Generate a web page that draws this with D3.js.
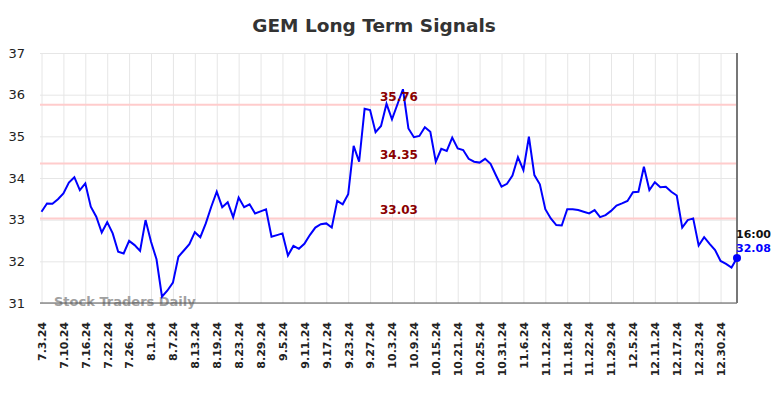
<!DOCTYPE html>
<html>
<head>
<meta charset="utf-8">
<script src="https://cdn.jsdelivr.net/npm/d3@7"></script>
<style>
  body { margin: 0; background: #fff; }
  svg { display: block; font-family: "DejaVu Sans", sans-serif; }
</style>
</head>
<body>
<div id="chart"></div>
<script>
// closing prices, one per trading day from 7.3.24
const prices = [
  33.19, 33.39, 33.38, 33.49, 33.63, 33.89, 34.02, 33.71, 33.87, 33.31,
  33.07, 32.69, 32.94, 32.67, 32.23, 32.19, 32.49, 32.39, 32.25, 32.99,
  32.47, 32.05, 31.15, 31.30, 31.49, 32.11, 32.26, 32.41, 32.70, 32.58,
  32.91, 33.31, 33.67, 33.30, 33.42, 33.06, 33.53, 33.30, 33.37, 33.15,
  33.20, 33.25, 32.59, 32.63, 32.67, 32.14, 32.37, 32.30, 32.42, 32.63,
  32.81, 32.89, 32.91, 32.81, 33.45, 33.37, 33.61, 34.77, 34.39, 35.66,
  35.63, 35.10, 35.25, 35.78, 35.41, 35.77, 36.13, 35.19, 34.98, 35.01,
  35.22, 35.11, 34.39, 34.70, 34.65, 34.97, 34.71, 34.67, 34.46, 34.39,
  34.37, 34.46, 34.34, 34.06, 33.79, 33.86, 34.06, 34.50, 34.19, 34.99,
  34.07, 33.85, 33.25, 33.03, 32.87, 32.86, 33.25, 33.25, 33.23, 33.19,
  33.15, 33.23, 33.06, 33.11, 33.21, 33.34, 33.39, 33.45, 33.66, 33.67,
  34.27, 33.71, 33.90, 33.78, 33.79, 33.67, 33.58, 32.81, 32.99, 33.03,
  32.38, 32.58, 32.42, 32.27, 32.01, 31.94, 31.85, 32.08
];

// one label every 4 trading days
const tickLabels = [
  '7.3.24', '7.10.24', '7.16.24', '7.22.24', '7.26.24', '8.1.24', '8.7.24', '8.13.24',
  '8.19.24', '8.23.24', '8.29.24', '9.5.24', '9.11.24', '9.17.24', '9.23.24', '9.27.24',
  '10.3.24', '10.9.24', '10.15.24', '10.21.24', '10.25.24', '10.31.24', '11.6.24', '11.12.24',
  '11.18.24', '11.22.24', '11.29.24', '12.5.24', '12.11.24', '12.17.24', '12.23.24', '12.30.24'
];
const tickStep = 4;

const signals = [35.76, 34.35, 33.03];
const yTicks = [31, 32, 33, 34, 35, 36, 37];
const lastTime = '16:00';

const width = 784;
const height = 398;
const plot = { left: 41, right: 737, top: 53, bottom: 303 };

const svg = d3.select('#chart')
  .append('svg')
  .attr('width', width)
  .attr('height', height);

const xScale = d3.scaleLinear()
  .domain([0, prices.length - 1])
  .range([plot.left + 0.5, plot.right]);

const yScale = d3.scaleLinear()
  .domain([31, 37])
  .range([plot.bottom, plot.top]);

// title
svg.append('text')
  .attr('x', 374)
  .attr('y', 32)
  .attr('text-anchor', 'middle')
  .attr('font-size', 18.5)
  .attr('font-weight', 'bold')
  .attr('fill', '#333')
  .text('GEM Long Term Signals');

// horizontal gridlines
svg.append('g')
  .attr('transform', `translate(${plot.left - 1}, 0)`)
  .call(d3.axisLeft(yScale).tickValues(yTicks).tickFormat('').tickSize(-(plot.right - plot.left + 1)))
  .call(g => g.select('.domain').remove())
  .call(g => g.selectAll('line').attr('stroke', '#e6e6e6'));

// vertical gridlines
const tickIdx = tickLabels.map((d, i) => i * tickStep);
svg.append('g')
  .attr('transform', `translate(0, ${plot.bottom})`)
  .call(d3.axisBottom(xScale).tickValues(tickIdx).tickFormat('').tickSize(-(plot.bottom - plot.top)))
  .call(g => g.select('.domain').remove())
  .call(g => g.selectAll('line').attr('stroke', '#e6e6e6'));

// y labels
svg.append('g')
  .attr('transform', `translate(${plot.left - 1}, 0)`)
  .call(d3.axisLeft(yScale).tickValues(yTicks).tickFormat(d3.format('d')).tickSize(0).tickPadding(15))
  .call(g => g.select('.domain').remove())
  .call(g => g.selectAll('text')
    .attr('font-size', 13)
    .attr('font-family', '"DejaVu Sans", sans-serif')
    .attr('fill', '#222'));

// x labels
svg.append('g')
  .attr('transform', `translate(0, ${plot.bottom})`)
  .call(d3.axisBottom(xScale).tickValues(tickIdx).tickFormat((d, i) => tickLabels[i]).tickSize(0))
  .call(g => g.select('.domain').remove())
  .call(g => g.selectAll('text')
    .attr('font-size', 11)
    .attr('font-weight', 'bold')
    .attr('font-family', '"DejaVu Sans", sans-serif')
    .attr('fill', '#222')
    .attr('text-anchor', 'end')
    .attr('transform', 'rotate(-90)')
    .attr('x', -19)
    .attr('y', 0)
    .attr('dy', '0.35em'));

// signal lines
svg.append('g')
  .selectAll('line')
  .data(signals)
  .join('line')
  .attr('x1', plot.left - 1)
  .attr('x2', plot.right)
  .attr('y1', d => yScale(d))
  .attr('y2', d => yScale(d))
  .attr('stroke', '#ffcccc')
  .attr('stroke-width', 2);

// watermark
svg.append('text')
  .attr('x', 54)
  .attr('y', 306)
  .attr('font-size', 13)
  .attr('font-weight', 'bold')
  .attr('fill', '#a0a0a0')
  .text('Stock Traders Daily');

// axis frame
svg.append('line')
  .attr('x1', plot.left - 1).attr('x2', plot.right)
  .attr('y1', plot.bottom).attr('y2', plot.bottom)
  .attr('stroke', '#555').attr('stroke-width', 1);
svg.append('line')
  .attr('x1', plot.right).attr('x2', plot.right)
  .attr('y1', plot.top).attr('y2', plot.bottom)
  .attr('stroke', '#777').attr('stroke-width', 2);

// price line
const line = d3.line()
  .x((d, i) => xScale(i))
  .y(d => yScale(d));

svg.append('path')
  .datum(prices)
  .attr('fill', 'none')
  .attr('stroke', '#0000ff')
  .attr('stroke-width', 2)
  .attr('d', line);

// signal labels
svg.append('g')
  .selectAll('text')
  .data(signals)
  .join('text')
  .attr('x', 399)
  .attr('y', d => yScale(d) - 4)
  .attr('text-anchor', 'middle')
  .attr('font-size', 12)
  .attr('font-weight', 'bold')
  .attr('fill', '#8b0000')
  .text(d => d.toFixed(2));

// last point
const last = prices.length - 1;
svg.append('circle')
  .attr('cx', xScale(last))
  .attr('cy', yScale(prices[last]))
  .attr('r', 4)
  .attr('fill', '#0000ff');

svg.append('text')
  .attr('x', xScale(last) - 1)
  .attr('y', yScale(prices[last]) - 20)
  .attr('font-size', 11)
  .attr('font-weight', 'bold')
  .attr('fill', '#111')
  .text(lastTime);

svg.append('text')
  .attr('x', xScale(last) - 1)
  .attr('y', yScale(prices[last]) - 6)
  .attr('font-size', 11)
  .attr('font-weight', 'bold')
  .attr('fill', '#0000ff')
  .text(prices[last].toFixed(2));
</script>
</body>
</html>
